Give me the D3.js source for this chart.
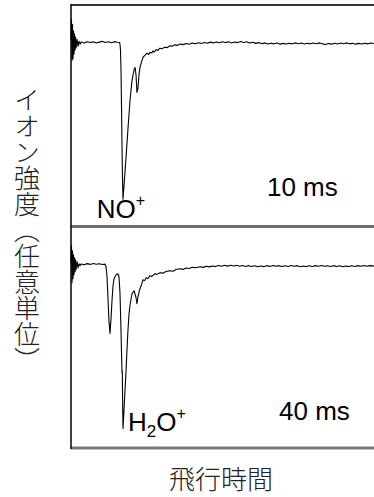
<!DOCTYPE html>
<html>
<head>
<meta charset="utf-8">
<script src="https://cdn.jsdelivr.net/npm/d3@7"></script>
<style>
  html, body { margin: 0; padding: 0; background: #fff; }
  svg { display: block; }
  .lat { font-family: "Liberation Sans", Arial, sans-serif; fill: #000; }
  .jp { font-family: "Noto Sans CJK JP", sans-serif; fill: #222; font-weight: 300; }
</style>
</head>
<body>
<main></main>
<script>
// time of flight (arbitrary units) vs ion signal (% of NO+ peak)
var upperTrace = [
    [0,2],[0.05,15],[0.1,-11],[0.15,12],[0.2,-10],[0.25,8],[0.3,-7],[0.35,6],[0.4,-4.5],[0.45,4],[0.5,-3],[0.6,2.5],[0.7,-2],[0.8,1.3],[0.9,-0.6],
    [1.0,0.8],[1.3,0.2],[1.6,1.0],[1.9,0.4],[2.2,0.9],[2.5,0.1],[2.8,0.7],[3.1,1.2],[3.4,0.5],[3.7,0.9],[4.0,0.3],[4.3,1.0],[4.6,0.6],[4.8,0.5],
    [4.85,-0.6],[4.9,-4.5],[4.95,-17],[5.0,-40],[5.05,-66],[5.1,-87],[5.15,-100],[5.25,-91],[5.45,-73],[5.64,-55],[5.84,-37],[6.04,-24],[6.24,-17],
    [6.34,-15.5],[6.44,-20.5],[6.53,-31.5],[6.63,-29],[6.73,-20.5],[6.83,-15.5],[7.03,-11],[7.13,-9],[7.33,-7.7],[7.52,-6.4],[7.7,-7.2],[7.82,-5.8],
    [8.0,-6.3],[8.1,-5.0],[8.25,-5.6],[8.4,-4.2],[8.6,-4.6],[8.8,-3.2],[9.0,-3.6],[9.3,-2.5],[9.5,-2.9],[9.8,-1.6],[10.0,-2.0],[10.3,-1.0],[10.5,-1.4],[10.8,-0.5],
    [11.1,-0.9],[11.4,-0.2],[11.7,-0.7],[12.0,0.1],[12.3,-0.4],[12.6,0.3],[12.9,-0.2],[13.2,0.5],[13.5,0.0],[13.8,0.7],[14.1,0.2],[14.4,0.8],[14.7,0.3],
    [15.0,1.0],[15.3,0.4],[15.6,0.9],[15.9,0.2],[16.2,0.8],[16.5,0.4],[16.8,1.1],[17.1,0.5],[17.4,0.9],[17.7,0.1],[18.0,0.6],[18.3,-0.1],[18.6,0.4],
    [18.9,-0.3],[19.2,0.2],[19.5,-0.5],[19.8,0.0],[20.1,-0.4],[20.4,0.1],[20.7,-0.6],[21.0,-0.1],[21.3,-0.5],[21.6,0.0],[21.9,-0.4],[22.2,0.2],[22.5,-0.3],
    [22.8,0.1],[23.1,-0.5],[23.4,0.0],[23.7,-0.4],[24.0,0.1],[24.3,-0.3],[24.6,0.2],[24.9,-0.4],[25.2,-0.8],[25.5,-0.2],[25.8,-0.6],[26.1,0.0],[26.4,-0.5],
    [26.7,0.1],[27.0,-0.3],[27.3,0.2],[27.6,-0.4],[27.9,0.0],[28.2,-0.6],[28.5,-0.1],[28.8,-0.5],[29.1,0.0],[29.4,-0.4],[29.7,0.1],[30.0,-0.2]
];

var lowerTrace = [
    [0,1.3],[0.05,12],[0.1,-11.5],[0.15,9],[0.2,-9],[0.25,6.4],[0.3,-6.4],[0.35,4.5],[0.4,-4.5],[0.45,3.2],[0.5,-3.2],[0.6,2],[0.7,-2],[0.8,0.6],[0.9,-0.6],
    [1.0,0.5],[1.3,0.0],[1.6,0.7],[1.9,0.2],[2.2,0.8],[2.5,0.3],[2.8,0.6],[3.1,0.1],[3.37,0.4],
    [3.47,-1.3],[3.56,-7],[3.66,-21],[3.76,-36],[3.86,-44],[3.96,-35],[4.06,-23],[4.16,-13.5],[4.26,-9],[4.46,-6.4],[4.65,-5.8],[4.75,-7.7],[4.85,-18],
    [4.95,-42],[5.05,-69],[5.08,-68],[5.11,-87],[5.15,-105],[5.25,-93],[5.35,-80],[5.45,-68],[5.54,-55],[5.64,-42],[5.74,-32],[5.84,-26],[6.04,-18.6],
    [6.24,-16.7],[6.44,-21],[6.53,-25],[6.63,-20.5],[6.83,-15.4],[7.0,-12.5],[7.13,-9.6],[7.3,-10.2],[7.43,-8.4],[7.6,-8.9],[7.82,-7],[8.0,-7.5],
    [8.32,-5.8],[8.5,-6.2],[8.81,-5.1],[9.1,-5.4],[9.4,-4.4],[9.8,-3.9],[10.1,-4.2],[10.4,-3.1],[10.8,-2.6],[11.1,-3.0],[11.4,-2.1],[11.7,-2.4],
    [12.0,-1.6],[12.3,-2.0],[12.8,-1.3],
    [13.1,-1.7],[13.4,-1.0],[13.7,-1.4],[14.0,-0.8],[14.3,-1.2],[14.6,-0.5],[14.9,-1.0],[15.2,-0.4],[15.5,-0.9],[15.8,-0.3],[16.1,-0.8],[16.4,-0.4],
    [16.7,-1.0],[17.0,-0.5],[17.3,-1.1],[17.6,-0.6],[17.9,-1.2],[18.2,-0.7],[18.5,-1.3],[18.8,-0.8],[19.1,-1.2],[19.4,-0.6],[19.7,-1.1],[20.0,-0.5],
    [20.3,-1.0],[20.6,-0.6],[20.9,-1.2],[21.2,-0.7],[21.5,-1.1],[21.8,-0.5],[22.1,-1.0],[22.4,-0.6],[22.7,-1.3],[23.0,-0.8],[23.3,-1.2],[23.6,-0.7],
    [23.9,-1.1],[24.2,-0.6],[24.5,-1.0],[24.8,-0.5],[25.1,-1.0],[25.4,-0.7],[25.7,-1.2],[26.0,-0.6],[26.3,-1.1],[26.6,-0.7],[26.9,-1.3],[27.2,-0.8],
    [27.5,-1.2],[27.8,-0.7],[28.1,-1.1],[28.4,-0.6],[28.7,-1.0],[29.0,-0.5],[29.3,-1.0],[29.6,-0.6],[30.0,-0.9]
];

var delays = ["10 ms", "40 ms"];
var xLabel = "飛行時間";
var yLabel = "イオン強度（任意単位）";

(function () {
    var width = 374, height = 497,
        margin = {top: 5, right: 0, bottom: 49, left: 71};

    var svg = d3.select("main").append("svg")
        .attr("width", width)
        .attr("height", height);

    var x = d3.scaleLinear().domain([0, 30]).range([margin.left, width - margin.right]);

    var panelH = (height - margin.bottom - margin.top) / 2;
    var panels = [
        {trace: upperTrace, top: margin.top, delay: delays[0]},
        {trace: lowerTrace, top: margin.top + panelH, delay: delays[1]}
    ];

    var line = function (y) {
        return d3.line().x(function (d) { return x(d[0]); }).y(function (d) { return y(d[1]); });
    };

    panels.forEach(function (p) {
        p.y = d3.scaleLinear().domain([-117.5, 24.5]).range([p.top + panelH, p.top]);
        svg.append("path")
            .datum(p.trace)
            .attr("d", line(p.y))
            .attr("fill", "none")
            .attr("stroke", "#000")
            .attr("stroke-width", 1.1)
            .attr("stroke-linejoin", "round");
    });

    // frame
    var up = panels[0], lo = panels[1];
    svg.append("line").attr("x1", margin.left).attr("x2", width)
        .attr("y1", up.top).attr("y2", up.top)
        .attr("stroke", "#333").attr("stroke-width", 2);
    svg.append("line").attr("x1", margin.left).attr("x2", width)
        .attr("y1", lo.top).attr("y2", lo.top)
        .attr("stroke", "#6e6e6e").attr("stroke-width", 3);
    svg.append("line").attr("x1", margin.left).attr("x2", width)
        .attr("y1", lo.top + panelH).attr("y2", lo.top + panelH)
        .attr("stroke", "#777").attr("stroke-width", 3);
    svg.append("line").attr("x1", margin.left).attr("x2", margin.left)
        .attr("y1", up.top - 1).attr("y2", lo.top + panelH + 1)
        .attr("stroke", "#000").attr("stroke-width", 1.5);

    // peak labels
    var no = svg.append("text").attr("class", "lat")
        .attr("x", x(2.55)).attr("y", up.y(-112))
        .style("font-size", "26px");
    no.append("tspan").text("NO");
    no.append("tspan").attr("dy", -12).style("font-size", "16px").text("+");

    var h2o = svg.append("text").attr("class", "lat")
        .attr("x", x(5.65)).attr("y", lo.y(-106.5))
        .style("font-size", "26px");
    h2o.append("tspan").text("H");
    h2o.append("tspan").attr("dy", 6).style("font-size", "17px").text("2");
    h2o.append("tspan").attr("dy", -6).text("O");
    h2o.append("tspan").attr("dy", -12).style("font-size", "16px").text("+");

    svg.append("text").attr("class", "lat")
        .attr("x", x(19.4)).attr("y", up.y(-98))
        .style("font-size", "26px")
        .text(up.delay);
    svg.append("text").attr("class", "lat")
        .attr("x", x(20.6)).attr("y", lo.y(-99.5))
        .style("font-size", "26px")
        .text(lo.delay);

    // axis titles
    svg.append("text").attr("class", "jp")
        .attr("x", 221).attr("y", 489)
        .attr("text-anchor", "middle")
        .style("font-size", "26px")
        .text(xLabel);

    svg.append("text").attr("class", "jp")
        .attr("x", 27).attr("y", 230)
        .attr("text-anchor", "middle")
        .style("writing-mode", "vertical-rl")
        .style("font-size", "26px")
        .text(yLabel);
})();
</script>
</body>
</html>
